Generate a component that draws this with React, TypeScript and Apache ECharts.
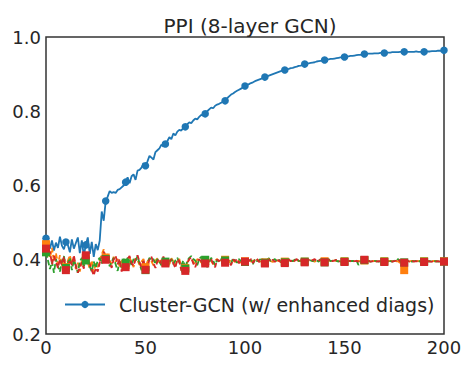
import React, { useEffect, useRef } from "react";
import * as echarts from "echarts";

const titleText = "PPI (8-layer GCN)";
const legendName = "Cluster-GCN (w/ enhanced diags)";
const yTicks = [0.2, 0.4, 0.6, 0.8, 1.0];
const xTicks = [0, 50, 100, 150, 200];

const blueVals = [
  0.458,0.442,0.430,0.452,0.425,0.446,0.432,0.462,0.438,0.428,
  0.448,0.440,0.420,0.455,0.430,0.445,0.460,0.418,0.452,0.410,
  0.440,0.460,0.416,0.448,0.408,0.442,0.426,0.452,0.530,0.505,
  0.558,0.570,0.585,0.580,0.582,0.580,0.588,0.590,0.595,0.600,
  0.609,0.622,0.606,0.625,0.630,0.615,0.640,0.642,0.648,0.660,
  0.653,0.665,0.680,0.675,0.670,0.690,0.695,0.700,0.710,0.705,
  0.712,0.720,0.730,0.725,0.740,0.735,0.745,0.750,0.748,0.755,
  0.758,0.765,0.770,0.768,0.775,0.780,0.778,0.785,0.790,0.788,
  0.793,0.800,0.805,0.810,0.808,0.815,0.818,0.820,0.823,0.826,
  0.828,0.835,0.840,0.845,0.848,0.852,0.855,0.858,0.861,0.864,
  0.868,0.871,0.873,0.876,0.878,0.881,0.883,0.885,0.887,0.890,
  0.892,0.894,0.896,0.898,0.900,0.902,0.904,0.906,0.908,0.910,
  0.911,0.913,0.914,0.916,0.917,0.919,0.920,0.922,0.923,0.925,
  0.927,0.928,0.929,0.930,0.931,0.932,0.934,0.935,0.936,0.937,
  0.938,0.939,0.940,0.941,0.941,0.942,0.943,0.944,0.945,0.945,
  0.946,0.947,0.948,0.949,0.949,0.950,0.951,0.952,0.952,0.953,
  0.954,0.954,0.955,0.955,0.955,0.956,0.956,0.956,0.957,0.957,
  0.957,0.958,0.958,0.958,0.959,0.959,0.959,0.959,0.960,0.960,
  0.960,0.960,0.960,0.960,0.960,0.960,0.961,0.960,0.960,0.960,
  0.960,0.961,0.961,0.961,0.962,0.962,0.962,0.963,0.963,0.963,
  0.964,
];

const orangeVals = [
  0.442,0.425,0.405,0.432,0.395,0.418,0.388,0.412,0.382,0.405,
  0.380,0.398,0.412,0.388,0.405,0.375,0.392,0.368,0.398,0.385,
  0.405,0.392,0.376,0.398,0.365,0.390,0.380,0.400,0.414,0.428,
  0.406,0.415,0.400,0.388,0.408,0.395,0.402,0.382,0.398,0.390,
  0.386,0.398,0.405,0.395,0.380,0.404,0.398,0.386,0.395,0.402,
  0.380,0.395,0.402,0.396,0.385,0.398,0.404,0.392,0.400,0.396,
  0.392,0.398,0.388,0.404,0.396,0.385,0.398,0.402,0.380,0.392,
  0.378,0.394,0.400,0.402,0.395,0.388,0.402,0.398,0.392,0.400,
  0.395,0.392,0.400,0.396,0.388,0.398,0.402,0.393,0.398,0.402,
  0.400,0.396,0.392,0.402,0.398,0.394,0.400,0.396,0.392,0.398,
  0.396,0.398,0.402,0.395,0.398,0.394,0.400,0.397,0.395,0.399,
  0.393,0.398,0.400,0.396,0.394,0.399,0.398,0.396,0.400,0.396,
  0.395,0.397,0.399,0.396,0.398,0.395,0.399,0.397,0.396,0.398,
  0.395,0.398,0.396,0.399,0.397,0.395,0.398,0.396,0.399,0.397,
  0.396,0.397,0.398,0.396,0.397,0.398,0.396,0.397,0.398,0.396,
  0.396,0.397,0.396,0.397,0.396,0.397,0.396,0.397,0.396,0.397,
  0.398,0.397,0.396,0.397,0.396,0.397,0.396,0.397,0.396,0.397,
  0.396,0.397,0.396,0.397,0.396,0.397,0.396,0.396,0.391,0.384,
  0.372,0.385,0.394,0.396,0.397,0.396,0.397,0.396,0.397,0.396,
  0.396,0.397,0.396,0.397,0.396,0.397,0.396,0.397,0.396,0.396,
  0.396,
];

const greenVals = [
  0.420,0.398,0.375,0.395,0.365,0.402,0.382,0.368,0.396,0.410,
  0.378,0.392,0.405,0.372,0.398,0.385,0.365,0.395,0.405,0.382,
  0.398,0.408,0.382,0.368,0.395,0.378,0.398,0.405,0.390,0.412,
  0.402,0.408,0.382,0.395,0.405,0.388,0.370,0.396,0.378,0.402,
  0.392,0.405,0.398,0.385,0.402,0.396,0.410,0.390,0.372,0.396,
  0.372,0.392,0.405,0.398,0.402,0.388,0.402,0.395,0.385,0.405,
  0.395,0.400,0.392,0.402,0.388,0.398,0.405,0.392,0.385,0.398,
  0.376,0.398,0.405,0.410,0.402,0.398,0.385,0.402,0.408,0.395,
  0.400,0.380,0.392,0.405,0.398,0.385,0.400,0.395,0.402,0.392,
  0.398,0.402,0.395,0.390,0.404,0.398,0.392,0.402,0.396,0.400,
  0.394,0.405,0.398,0.400,0.388,0.402,0.396,0.398,0.403,0.396,
  0.392,0.400,0.404,0.395,0.398,0.402,0.396,0.400,0.395,0.398,
  0.393,0.398,0.402,0.398,0.396,0.400,0.403,0.396,0.398,0.400,
  0.395,0.396,0.402,0.398,0.396,0.401,0.398,0.395,0.402,0.396,
  0.393,0.398,0.402,0.396,0.398,0.401,0.397,0.395,0.400,0.397,
  0.395,0.397,0.398,0.396,0.397,0.396,0.398,0.386,0.395,0.398,
  0.399,0.400,0.396,0.395,0.396,0.397,0.396,0.395,0.396,0.397,
  0.395,0.396,0.398,0.396,0.395,0.397,0.398,0.402,0.396,0.394,
  0.393,0.396,0.397,0.396,0.395,0.396,0.397,0.395,0.396,0.396,
  0.395,0.396,0.395,0.396,0.395,0.396,0.396,0.395,0.396,0.395,
  0.395,
];

const redVals = [
  0.430,0.412,0.422,0.388,0.410,0.395,0.378,0.402,0.386,0.408,
  0.372,0.378,0.400,0.385,0.412,0.382,0.365,0.380,0.393,0.376,
  0.412,0.402,0.388,0.372,0.358,0.378,0.368,0.392,0.404,0.422,
  0.400,0.412,0.394,0.378,0.402,0.410,0.388,0.401,0.368,0.390,
  0.380,0.402,0.410,0.390,0.384,0.401,0.412,0.394,0.378,0.400,
  0.373,0.380,0.401,0.408,0.390,0.378,0.396,0.402,0.389,0.409,
  0.390,0.402,0.396,0.400,0.390,0.378,0.401,0.396,0.370,0.383,
  0.370,0.390,0.402,0.406,0.390,0.380,0.396,0.401,0.395,0.402,
  0.390,0.401,0.395,0.402,0.389,0.380,0.401,0.396,0.402,0.390,
  0.392,0.402,0.396,0.385,0.401,0.396,0.402,0.390,0.401,0.397,
  0.395,0.401,0.396,0.402,0.391,0.399,0.403,0.394,0.399,0.401,
  0.390,0.398,0.402,0.396,0.400,0.394,0.401,0.398,0.393,0.400,
  0.391,0.399,0.401,0.396,0.400,0.397,0.402,0.395,0.398,0.401,
  0.393,0.397,0.400,0.396,0.399,0.402,0.396,0.398,0.400,0.395,
  0.393,0.396,0.399,0.401,0.396,0.398,0.400,0.397,0.395,0.398,
  0.394,0.396,0.397,0.396,0.395,0.396,0.397,0.395,0.396,0.398,
  0.400,0.402,0.398,0.395,0.396,0.396,0.395,0.396,0.396,0.395,
  0.394,0.395,0.396,0.396,0.395,0.396,0.398,0.401,0.396,0.390,
  0.392,0.396,0.396,0.395,0.396,0.395,0.396,0.396,0.395,0.396,
  0.394,0.395,0.396,0.395,0.395,0.396,0.395,0.396,0.395,0.395,
  0.395,
];

const FONT = "DejaVu Sans";
const TXT = "#262626";

function toPairs(vals: number[]) {
  return vals.map((v, i) => [i, v]);
}

const markEvery = (size: number) => (_v: any, p: any) =>
  p && p.dataIndex % 10 === 0 ? size : 0;

export default function App() {
  const ref = useRef<HTMLDivElement>(null);
  useEffect(() => {
    document.body.style.margin = "0";
    const chart = echarts.init(ref.current!, null, { renderer: "svg" });
    const dashed = (name: string, color: string, vals: number[]) => ({
      name,
      type: "line",
      data: toPairs(vals),
      symbol: "rect",
      symbolSize: markEvery(8),
      showSymbol: true,
      showAllSymbol: true,
      lineStyle: { color, width: 1.8, type: [5.5, 2.4] },
      itemStyle: { color, borderWidth: 0 },
      emphasis: { disabled: true },
      z: 3,
    });
    chart.setOption({
      animation: false,
      title: {
        text: titleText,
        left: 245,
        top: 11,
        textAlign: "center",
        textStyle: { fontFamily: FONT, fontSize: 20, fontWeight: "normal", color: TXT },
      },
      legend: {
        data: [legendName],
        left: 64,
        top: 295,
        padding: 0,
        itemWidth: 40,
        itemHeight: 9,
        textStyle: { fontFamily: FONT, fontSize: 19, color: TXT, padding: [0, 0, 0, 9] },
      },
      grid: {
        left: 46,
        right: 31,
        top: 37,
        bottom: 45,
        show: true,
        borderColor: "#333333",
        borderWidth: 1.5,
        containLabel: false,
      },
      xAxis: {
        type: "value",
        min: xTicks[0],
        max: xTicks[xTicks.length - 1],
        interval: 50,
        axisLine: { show: false },
        axisTick: { show: false },
        splitLine: { show: false },
        axisLabel: { fontFamily: FONT, fontSize: 18, color: TXT, margin: 4 },
      },
      yAxis: {
        type: "value",
        min: yTicks[0],
        max: yTicks[yTicks.length - 1],
        interval: 0.2,
        axisLine: { show: false },
        axisTick: { show: false },
        splitLine: { show: false },
        axisLabel: {
          fontFamily: FONT,
          fontSize: 18,
          color: TXT,
          margin: 5,
          formatter: (v: number) => v.toFixed(1),
        },
      },
      series: [
        {
          name: legendName,
          type: "line",
          data: toPairs(blueVals),
          symbol: "circle",
          symbolSize: markEvery(7.5),
          showSymbol: true,
          showAllSymbol: true,
          lineStyle: { color: "#1f77b4", width: 1.8 },
          itemStyle: { color: "#1f77b4", borderWidth: 0 },
          emphasis: { disabled: true },
          z: 2,
        },
        dashed("orange", "#ff7f0e", orangeVals),
        dashed("green", "#2ca02c", greenVals),
        dashed("red", "#d62728", redVals),
      ],
    });
    return () => chart.dispose();
  }, []);
  return <div ref={ref} style={{ width: 475, height: 379 }} />;
}
